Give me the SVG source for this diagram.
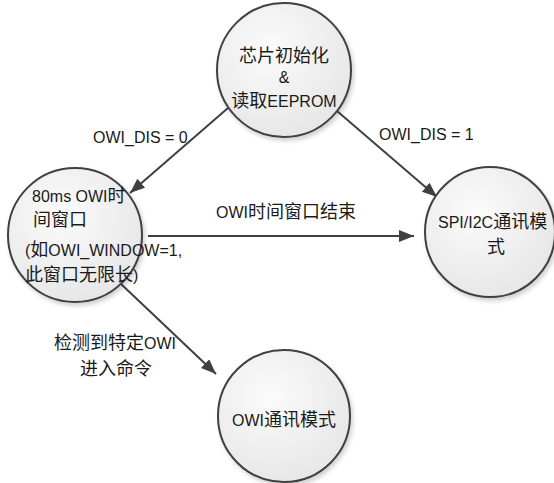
<svg xmlns="http://www.w3.org/2000/svg" width="554" height="483" viewBox="0 0 554 483">
<style>
text{font-family:"Liberation Sans","Noto Sans CJK SC",sans-serif;font-size:16px;fill:#1a1a1a}
.c{font-size:18px}
.node{fill:url(#g);stroke:#404040;stroke-width:2;filter:url(#sh)}
.edge{stroke:#404040;stroke-width:2;fill:none;marker-end:url(#ah)}
</style>
<defs>
<radialGradient id="g" cx="0.4" cy="0.35" r="0.7">
<stop offset="0" stop-color="#fbfbfb"/>
<stop offset="1" stop-color="#e6e6e6"/>
</radialGradient>
<filter id="sh" x="-20%" y="-20%" width="150%" height="150%">
<feDropShadow dx="2" dy="3" stdDeviation="2" flood-color="#000" flood-opacity="0.18"/>
</filter>
<marker id="ah" markerUnits="userSpaceOnUse" markerWidth="16" markerHeight="12" refX="15" refY="6" orient="auto">
<path d="M0,0 L15,6 L0,12 z" fill="#404040"/>
</marker>
</defs>
<g id="edges">
<line class="edge" x1="228" y1="108" x2="130" y2="193"/>
<line class="edge" x1="337" y1="111" x2="437" y2="197"/>
<line class="edge" x1="148" y1="236" x2="414" y2="236"/>
<line class="edge" x1="121" y1="284" x2="216" y2="374"/>
</g>
<g id="edge-labels">
<text x="93" y="143">OWI_DIS = 0</text>
<text x="379" y="140">OWI_DIS = 1</text>
<text x="286" y="218" text-anchor="middle">OWI<tspan class="c">时间窗口结束</tspan></text>
<text x="115" y="349" text-anchor="middle"><tspan class="c">检测到特定</tspan>OWI</text>
<text x="116" y="375" text-anchor="middle" class="c">进入命令</text>
</g>
<g id="init">
<circle class="node" cx="284" cy="70" r="67"/>
<text x="284" y="62" text-anchor="middle" class="c">芯片初始化</text>
<text x="284" y="83" text-anchor="middle">&amp;</text>
<text x="284" y="107" text-anchor="middle"><tspan class="c">读取</tspan>EEPROM</text>
</g>
<g id="owi-window">
<circle class="node" cx="75" cy="235" r="67"/>
<text x="32" y="202">80ms OWI<tspan class="c">时</tspan></text>
<text x="33" y="226" class="c">间窗口</text>
<text x="25" y="256">(<tspan class="c">如</tspan>OWI_WINDOW=1,</text>
<text x="25" y="281"><tspan class="c">此窗口无限长</tspan>)</text>
</g>
<g id="spi-i2c">
<circle class="node" cx="490" cy="232" r="65"/>
<text x="438" y="228">SPI/I2C<tspan class="c">通讯模</tspan></text>
<text x="496" y="253" text-anchor="middle" class="c">式</text>
</g>
<g id="owi-comm">
<circle class="node" cx="284" cy="416" r="66"/>
<text x="284" y="426" text-anchor="middle">OWI<tspan class="c">通讯模式</tspan></text>
</g>
</svg>
